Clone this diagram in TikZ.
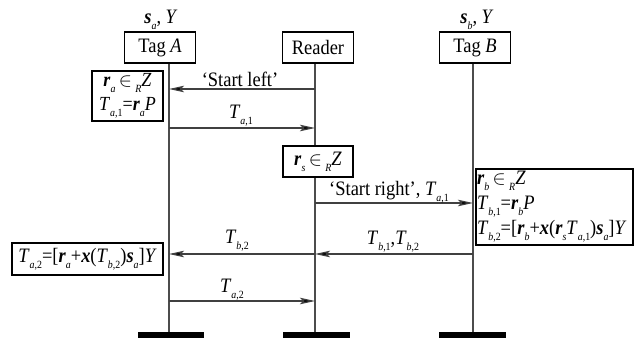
\documentclass[tikz,border=0pt]{standalone}
\usepackage{fontspec}
\setmainfont{Liberation Serif}[FakeStretch=0.9]
\usetikzlibrary{arrows.meta}
\newcommand\bv[1]{\textbf{\textit{#1}}}
\newcommand\sbs[1]{\raisebox{-0.3em}{\fontsize{11}{11}\selectfont #1}}
\newcommand\inR{\,\scalebox{0.95}{$\in$}\,\sbs{\textit{R}}}
\begin{document}
\begin{tikzpicture}[x=1pt,y=-1pt,
  every node/.style={font=\fontsize{20.5}{25}\selectfont},
  hdr/.style={draw, line width=1.6pt, fill=white, minimum width=71pt, minimum height=31pt, inner sep=0pt},
  calc/.style={draw, line width=1.6pt, fill=white, inner sep=1pt},
  life/.style={draw=black!70, line width=1.4pt},
  msg/.style={draw=black!75, line width=1.2pt, -{Stealth[length=15pt,width=6.5pt,inset=3pt,fill=black]}},
  bar/.style={fill=black, draw=none, minimum height=6pt, inner sep=0pt},
  lbl/.style={inner sep=0pt}]
\useasboundingbox (0,0) rectangle (635,338);
% lifeline coordinates
\coordinate (A0) at (169,63); \coordinate (A9) at (169,332);
\coordinate (R0) at (315,63); \coordinate (R9) at (315,332);
\coordinate (B0) at (473,63); \coordinate (B9) at (473,332);
\draw[life] (A0) -- (A9);
\draw[life] (R0) -- (R9);
\draw[life] (B0) -- (B9);
% headers
\node[hdr] (tagA) at (160,47.5) {Tag \textit{A}};
\node[hdr] (reader) at (318,47.5) {Reader};
\node[hdr] (tagB) at (475,47.5) {Tag \textit{B}};
\node[lbl] (ka) at (161,20) {\bv{s}\sbs{\textit{a}}, \textit{Y}};
\node[lbl] (kb) at (477,20) {\bv{s}\sbs{\textit{b}}, \textit{Y}};
% bars
\node[bar, minimum width=66pt] (barA) at (171,335) {};
\node[bar, minimum width=67pt] (barR) at (316.5,335) {};
\node[bar, minimum width=67pt] (barB) at (472.5,335) {};
% message coordinates
\coordinate (a1) at (169,89);  \coordinate (r1) at (315,89);
\coordinate (a2) at (169,128); \coordinate (r2) at (315,128);
\coordinate (r3) at (315,203); \coordinate (b3) at (473,203);
\coordinate (b4) at (473,254); \coordinate (r4) at (315,254); \coordinate (a4) at (169,254);
\coordinate (a5) at (169,301); \coordinate (r5) at (315,301);
\draw[msg] (r1) -- (a1);
\draw[msg] (a2) -- (r2);
\draw[msg] (r3) -- (b3);
\draw[msg] (b4) -- (r4);
\draw[msg] (r4) -- (a4);
\draw[msg] (a5) -- (r5);
% message labels
\node[lbl] (m1) at (240,79) {‘Start left’};
\node[lbl] (m2) at (241,116) {\textit{T}\sbs{\textit{a},1}};
\node[lbl] (m3) at (389,192) {‘Start right’, \textit{T}\sbs{\textit{a},1}};
\node[lbl] (m4) at (393,242) {\textit{T}\sbs{\textit{b},1},\textit{T}\sbs{\textit{b},2}};
\node[lbl] (m5) at (237,241) {\textit{T}\sbs{\textit{b},2}};
\node[lbl] (m6) at (232,290) {\textit{T}\sbs{\textit{a},2}};
% computation boxes
\node[calc, minimum width=71pt, minimum height=50pt, align=center, inner sep=0pt, font=\fontsize{20}{24}\selectfont] (ra) at (127.5,96)
  {\bv{r}\sbs{\textit{a}}\inR\textit{Z}\\\textit{T}\sbs{\textit{a},1}=\bv{r}\sbs{\textit{a}}\textit{P}};
\node[calc, minimum width=70pt, minimum height=31pt] (rs) at (318,161.5)
  {\bv{r}\sbs{\textit{s}}\inR\textit{Z}};
\node[calc, line width=2.2pt, minimum width=157pt, minimum height=76pt, align=left, text width=155pt, inner sep=0.5pt] (rb) at (554.5,207)
  {\bv{r}\sbs{\textit{b}}\inR\textit{Z}\\\textit{T}\sbs{\textit{b},1}=\bv{r}\sbs{\textit{b}}\textit{P}\\\textit{T}\sbs{\textit{b},2}=[\bv{r}\sbs{\textit{b}}+\bv{x}(\bv{r}\sbs{\textit{s}}\textit{T}\sbs{\textit{a},1})\bv{s}\sbs{\textit{a}}]\textit{Y}};
\node[calc, minimum width=151pt, minimum height=32pt] (ta2) at (87.5,259)
  {\textit{T}\sbs{\textit{a},2}=[\bv{r}\sbs{\textit{a}}+\bv{x}(\textit{T}\sbs{\textit{b},2})\bv{s}\sbs{\textit{a}}]\textit{Y}};
\end{tikzpicture}
\end{document}
